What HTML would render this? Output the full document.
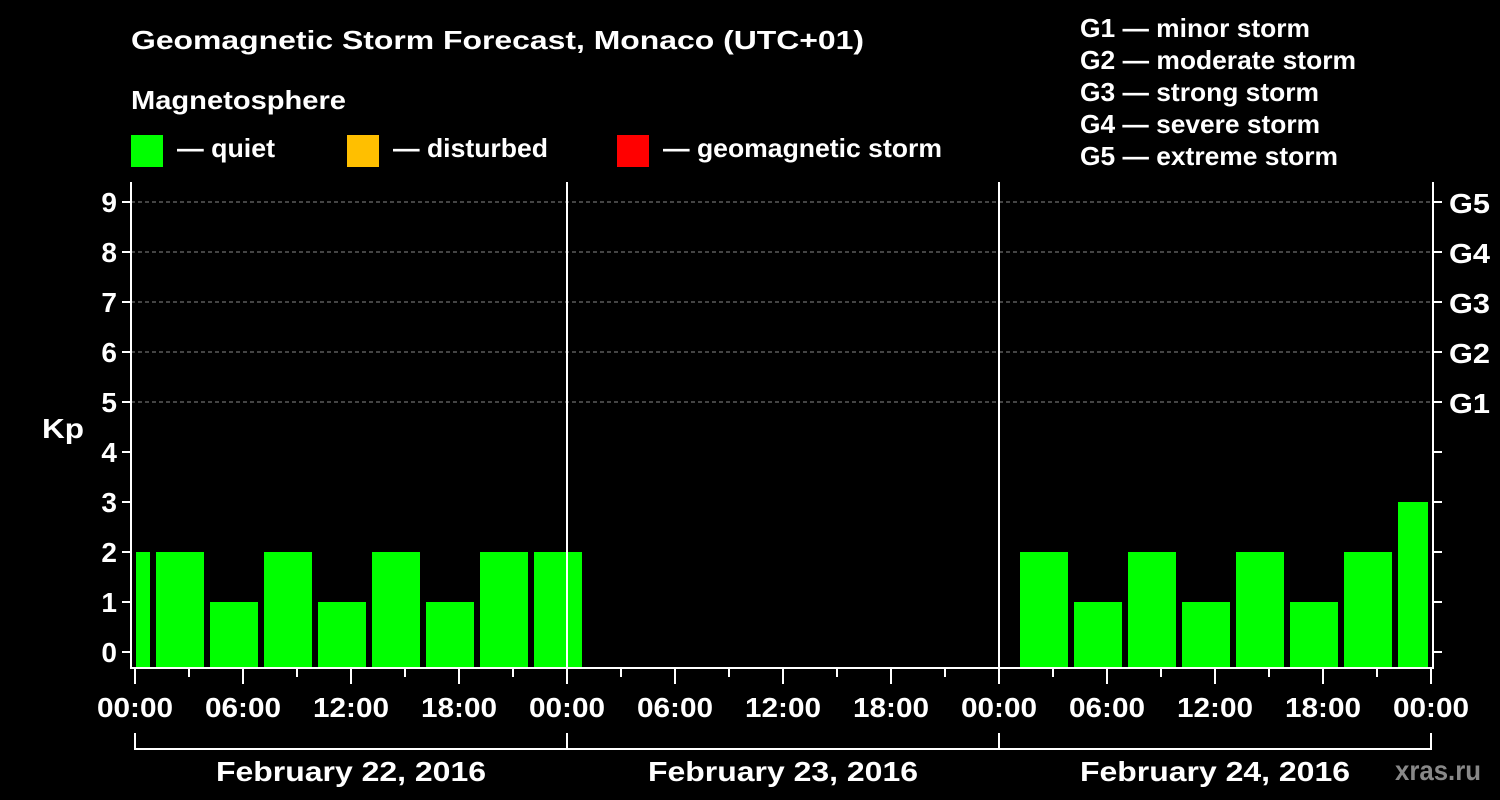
<!DOCTYPE html>
<html><head><meta charset="utf-8"><style>
html,body{margin:0;padding:0;background:#000;}
svg{display:block;font-family:"Liberation Sans",Arial,sans-serif;font-weight:bold;}
</style></head><body>
<svg id="chart" width="1500" height="800" viewBox="0 0 1500 800" xmlns="http://www.w3.org/2000/svg">
<rect width="1500" height="800" fill="#000"/>
<text x="131" y="49" fill="#fff" font-size="26" textLength="733" lengthAdjust="spacingAndGlyphs">Geomagnetic Storm Forecast, Monaco (UTC+01)</text>
<text x="131" y="109" fill="#fff" font-size="26" textLength="215" lengthAdjust="spacingAndGlyphs">Magnetosphere</text>
<g><rect x="131" y="135" width="32" height="32" fill="#00ff00"/><text x="177" y="157" fill="#fff" font-size="26" textLength="98" lengthAdjust="spacingAndGlyphs">— quiet</text></g>
<g><rect x="347" y="135" width="32" height="32" fill="#ffbf00"/><text x="393" y="157" fill="#fff" font-size="26" textLength="155" lengthAdjust="spacingAndGlyphs">— disturbed</text></g>
<g><rect x="617" y="135" width="32" height="32" fill="#ff0000"/><text x="663" y="157" fill="#fff" font-size="26" textLength="279" lengthAdjust="spacingAndGlyphs">— geomagnetic storm</text></g>
<g fill="#fff" font-size="26" lengthAdjust="spacingAndGlyphs">
<text x="1080" y="37" textLength="230" lengthAdjust="spacingAndGlyphs">G1 — minor storm</text>
<text x="1080" y="69" textLength="276" lengthAdjust="spacingAndGlyphs">G2 — moderate storm</text>
<text x="1080" y="101" textLength="239" lengthAdjust="spacingAndGlyphs">G3 — strong storm</text>
<text x="1080" y="133" textLength="240" lengthAdjust="spacingAndGlyphs">G4 — severe storm</text>
<text x="1080" y="165" textLength="258" lengthAdjust="spacingAndGlyphs">G5 — extreme storm</text>
</g>
<text x="42" y="438" fill="#fff" font-size="28" textLength="42" lengthAdjust="spacingAndGlyphs">Kp</text>
<text x="1395" y="780" fill="#888" font-size="28" textLength="86" lengthAdjust="spacingAndGlyphs">xras.ru</text>
<g id="grid"></g><g id="bars"></g><g id="axes"></g>
</svg>
<script>
const days = ["February 22, 2016","February 23, 2016","February 24, 2016"];
const binStartHours = [-2,1,4,7,10,13,16,19,22, 49,52,55,58,61,64,67,70];
const kpValues = [2,2,1,2,1,2,1,2,2, 2,1,2,1,2,1,2,3];
const kpTicks = [0,1,2,3,4,5,6,7,8,9];
const gLabels = ["G1","G2","G3","G4","G5"];
const xTickLabels = ["00:00","06:00","12:00","18:00"];

const NS="http://www.w3.org/2000/svg";
const L=131,R=1433,T=182,B=668,X0=135,PXH=18;
const xS=h=>X0+h*PXH;
const yS=v=>652-v*50;
function mk(tag,attrs,parent,txt){const e=document.createElementNS(NS,tag);for(const k in attrs)e.setAttribute(k,attrs[k]);if(txt!=null)e.textContent=txt;parent.appendChild(e);return e;}
const grid=document.getElementById('grid'),bars=document.getElementById('bars'),axes=document.getElementById('axes');
gLabels.forEach((g,i)=>{const y=yS(5+i);
 const ln=mk('line',{x1:L,x2:R,y1:y,y2:y,stroke:'#888','stroke-dasharray':'4,3','stroke-width':1},grid);
 
 
 const t=mk('text',{x:1449,y:y+11,fill:'#fff','font-size':28,textLength:41,lengthAdjust:'spacingAndGlyphs'},axes,g);
 
 
});
binStartHours.forEach((h,i)=>{
 let x1=Math.max(xS(h)+3,X0+1),x2=Math.min(xS(h+3)-3,xS(72)-3);
 const y=yS(kpValues[i]);
 const r=mk('rect',{x:x1,y:y,width:x2-x1,height:B-y,fill:'#00ff00'},bars);
 
 
});
mk('path',{d:`M${L},${T}V${B}H${R}V${T}`,stroke:'#fff','stroke-width':2,fill:'none'},axes);
[1,2].forEach(d=>{const s=mk('line',{x1:xS(24*d),x2:xS(24*d),y1:T,y2:B,stroke:'#fff','stroke-width':2},axes);
 
 });
kpTicks.forEach(v=>{const y=yS(v);
 mk('line',{x1:L-9,x2:L,y1:y,y2:y,stroke:'#fff','stroke-width':2},axes);
 mk('line',{x1:R,x2:R+9,y1:y,y2:y,stroke:'#fff','stroke-width':2},axes);
 const t=mk('text',{x:L-14,y:y+10,fill:'#fff','font-size':28,'text-anchor':'end'},axes,String(v));
 
 });
for(let h=0;h<=72;h+=3){const x=xS(h),major=h%6===0;
 mk('line',{x1:x,x2:x,y1:B,y2:B+(major?16:9),stroke:'#fff','stroke-width':2},axes);
 if(major){const t=mk('text',{x:x,y:717,fill:'#fff','font-size':28,'text-anchor':'middle',textLength:76,lengthAdjust:'spacingAndGlyphs'},axes,xTickLabels[(h/6)%4]);
  
  }}
mk('line',{x1:xS(0),x2:xS(72),y1:749,y2:749,stroke:'#fff','stroke-width':2},axes);
for(let d=0;d<=3;d++)mk('line',{x1:xS(24*d),x2:xS(24*d),y1:733,y2:750,stroke:'#fff','stroke-width':2},axes);
days.forEach((d,i)=>{const t=mk('text',{x:xS(24*i+12),y:781,fill:'#fff','font-size':28,'text-anchor':'middle',textLength:270,lengthAdjust:'spacingAndGlyphs'},axes,d);
 
 });
</script>
</body></html>
